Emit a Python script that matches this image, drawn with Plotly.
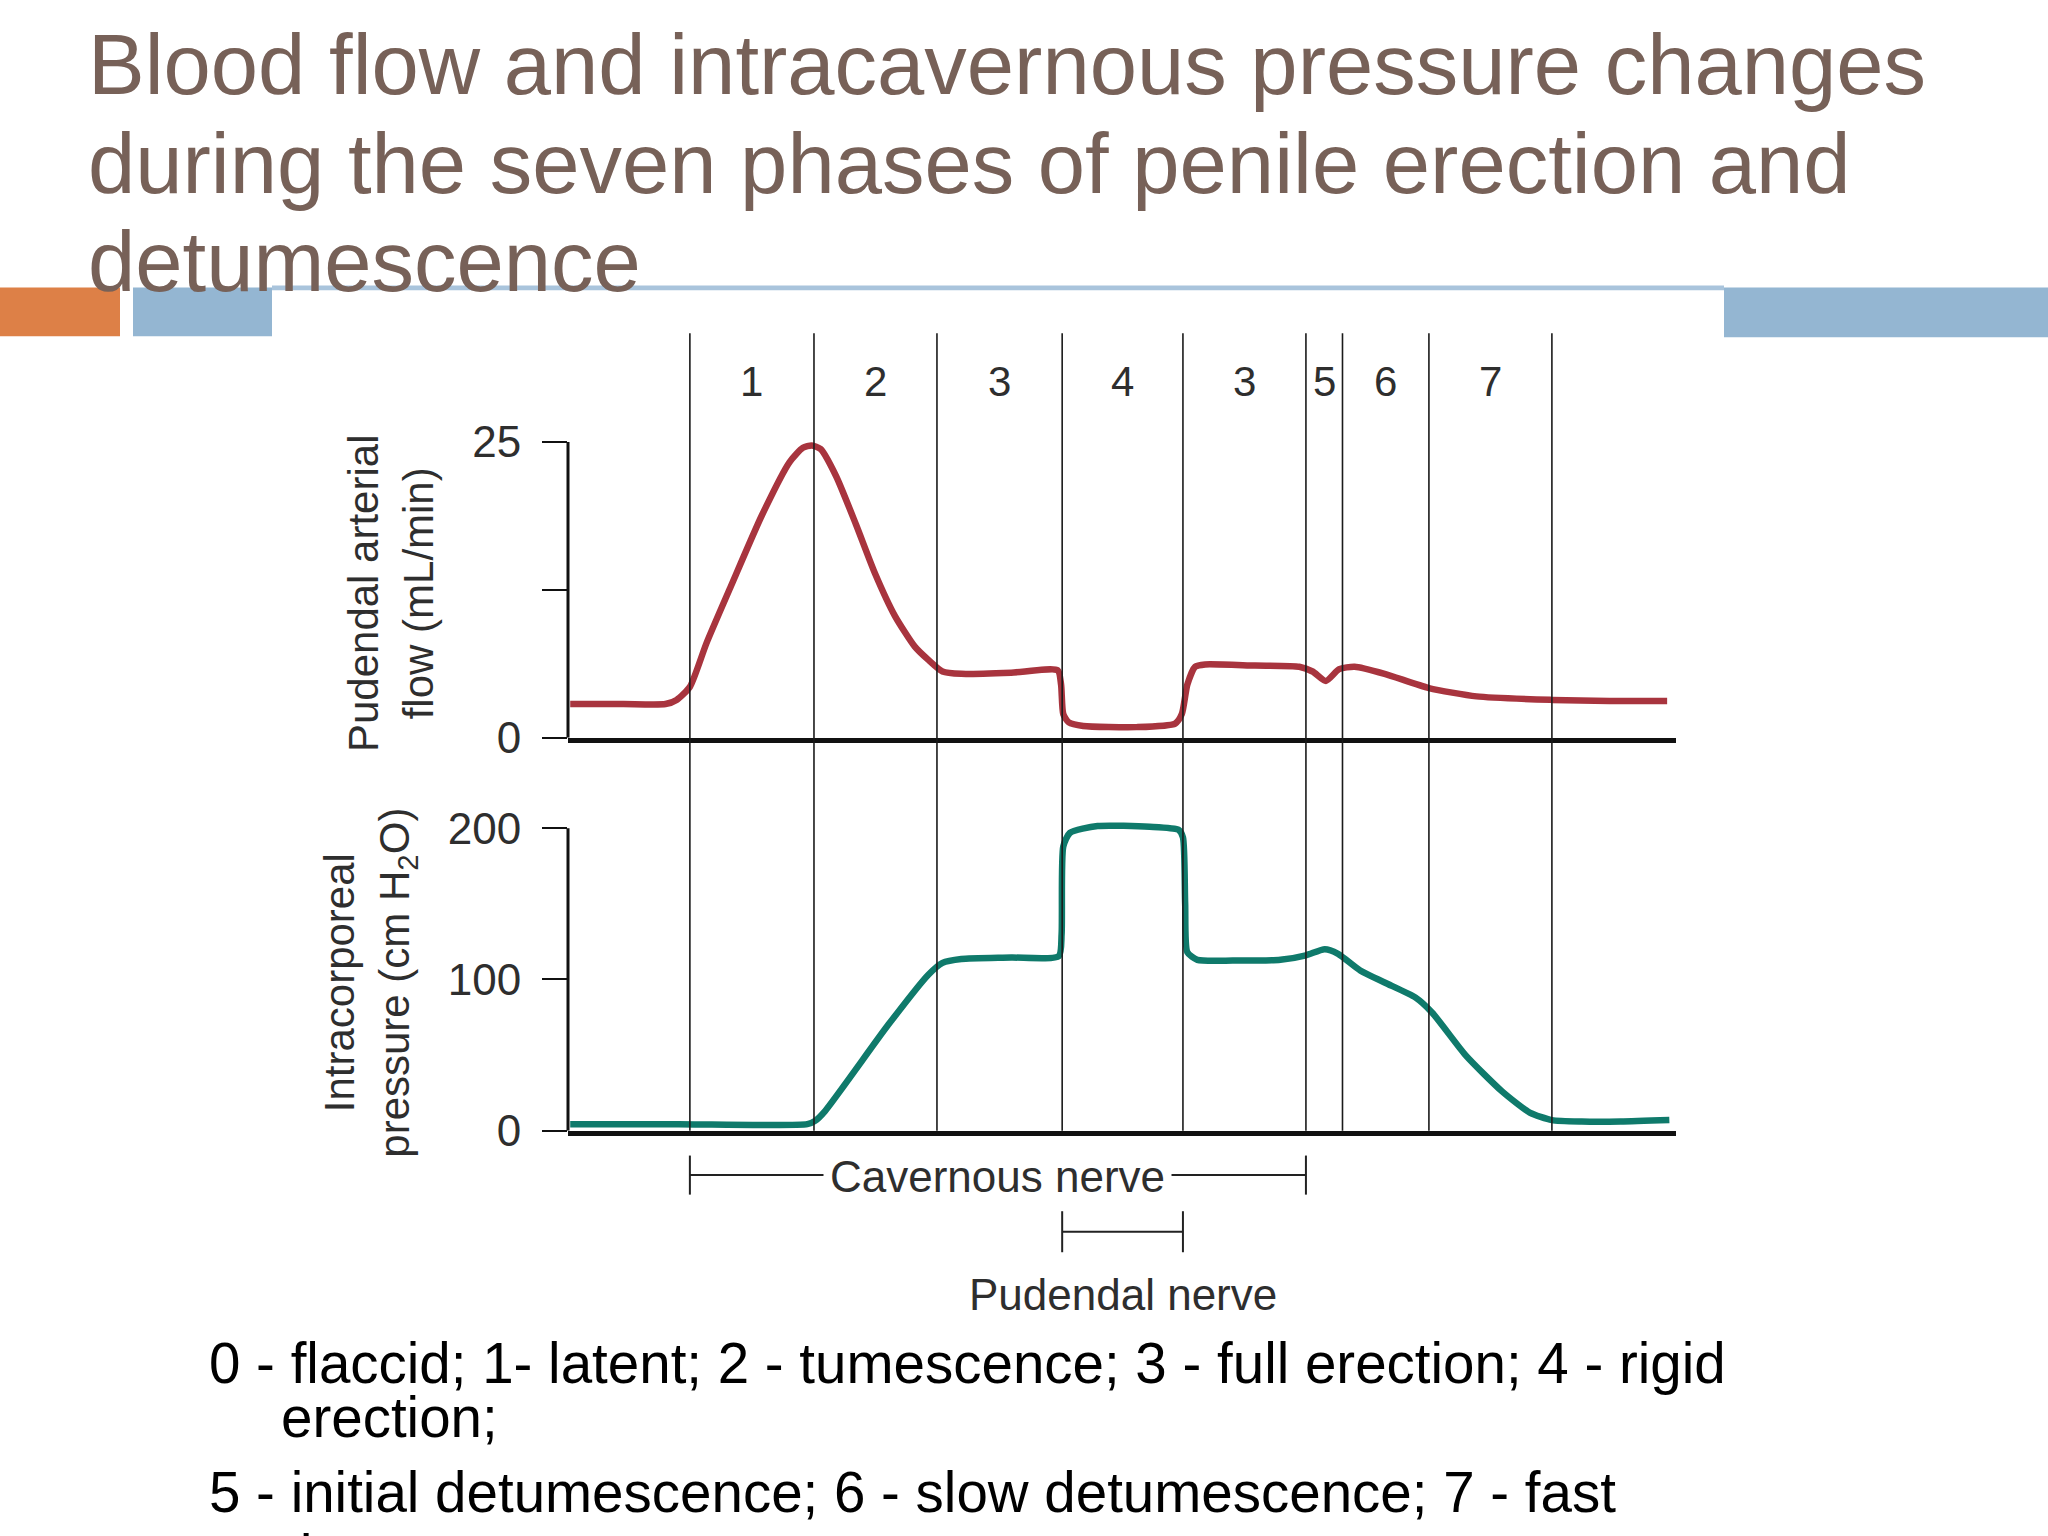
import plotly.graph_objects as go

W, H = 2048, 1536

# ---------------- data ----------------
title_lines = ["Blood flow and intracavernous pressure changes",
               "during the seven phases of penile erection and",
               "detumescence"]

phase_bounds = [11.0, 22.2, 33.3, 44.6, 55.5, 66.6, 69.9, 77.7, 88.8]
phase_labels = ["1", "2", "3", "4", "3", "5", "6", "7"]

# pudendal arterial flow (mL/min)
flow_t = [0.2, 5, 8.8, 9.8, 11.0, 12.5, 14.7, 17.5, 20.0, 21.2, 22.0, 22.8, 24.2, 26.0,
          27.7, 29.5, 31.3, 32.5, 33.8, 35.5, 40, 44.2, 44.5, 44.7, 45.2, 46.5, 51.3, 54.8,
          55.4, 55.9, 56.6, 57.5, 62, 66.0, 67.2, 68.4, 69.6, 71.0, 73.7, 77.7, 82.0, 88.8,
          94, 99.2]
flow_v = [2.85, 2.85, 2.85, 3.2, 4.3, 8.0, 12.8, 18.8, 23.3, 24.5, 24.7, 24.4, 22.1, 18.0,
          13.9, 10.3, 7.7, 6.6, 5.6, 5.4, 5.5, 5.7, 4.5, 2.0, 1.3, 1.0, 0.9, 1.2,
          2.0, 4.5, 6.0, 6.2, 6.1, 6.0, 5.6, 4.8, 5.8, 6.0, 5.4, 4.2, 3.5, 3.2,
          3.1, 3.1]

# intracorporeal pressure (cm H2O)
press_t = [0.2, 10, 21.6, 22.3, 23.2, 28.9, 32.5, 33.8, 35.5, 40, 44.3, 44.55, 44.7, 45.3,
           47.8, 52.5, 55.1, 55.5, 55.7, 55.9, 56.8, 60, 64.3, 66.6, 68.3, 69.5, 71.5,
           73.7, 76.5, 78.0, 81, 84.3, 86.8, 88.8, 91.5, 95, 99.4]
press_v = [4.3, 4.3, 4.3, 6.5, 13, 70, 103, 111, 113.5, 114.5, 115.5, 130, 188, 197,
           201.5, 201, 199, 194, 150, 118, 113, 112.5, 113, 116, 120, 117, 106,
           98, 88, 78, 50, 26, 12, 7, 6, 6, 7]

flow_ticks = [0, 12.5, 25]
flow_ticktext = ["0", " ", "25"]
press_ticks = [0, 100, 200]
press_ticktext = ["0", "100", "200"]

cavernous_span = [11.0, 66.6]
pudendal_span = [44.6, 55.5]

legend_lines = ["0 - flaccid; 1- latent; 2 - tumescence; 3 - full erection; 4 - rigid",
                "erection;",
                "5 - initial detumescence; 6 - slow detumescence; 7 - fast",
                "detumescence;"]

# ---------------- helpers ----------------
def px_x(p):
    return p / W

def px_y(p):
    return (H - p) / H

FONT = "Liberation Sans, Arial, sans-serif"
TXT = "#2e2e2e"
RED = "#a8343e"
GREEN = "#0f7a6b"
BROWN = "#776158"
ORANGE = "#dd8047"
BLUE = "#94b6d2"

xdom = [px_x(568), px_x(1676)]
TOP0, TOPK = 743.2, 12.12      # pixel of y=0, px per unit (top panel)
BOT0, BOTK = 1145.5, 1.548     # pixel of y=0, px per unit (bottom panel)
top_dom = [px_y(TOP0), px_y(TOP0 - 26 * TOPK)]
bot_dom = [px_y(BOT0), px_y(BOT0 - 208 * BOTK)]

fig = go.Figure()
fig.add_trace(go.Scatter(x=flow_t, y=flow_v, mode="lines", xaxis="x", yaxis="y",
                         line=dict(color=RED, width=6.5, shape="spline", smoothing=0.6),
                         showlegend=False, hoverinfo="skip"))
fig.add_trace(go.Scatter(x=press_t, y=press_v, mode="lines", xaxis="x2", yaxis="y2",
                         line=dict(color=GREEN, width=6.5, shape="spline", smoothing=0.6),
                         showlegend=False, hoverinfo="skip"))

common_x = dict(range=[0, 100], showgrid=False, zeroline=False, showticklabels=False,
                ticks="", showline=True, linecolor="#111", linewidth=5, fixedrange=True)
common_y = dict(showgrid=False, zeroline=False, showline=False, ticks="outside",
                ticklen=25, tickwidth=2, tickcolor="#111", ticklabelstandoff=12,
                tickfont=dict(family=FONT, size=44, color=TXT), fixedrange=True)

fig.update_layout(
    width=W, height=H, margin=dict(l=0, r=0, t=0, b=0),
    paper_bgcolor="white", plot_bgcolor="rgba(0,0,0,0)",
    xaxis=dict(domain=xdom, anchor="y", **common_x),
    xaxis2=dict(domain=xdom, anchor="y2", matches="x", **common_x),
    yaxis=dict(domain=top_dom, anchor="x", range=[0, 26], tickvals=flow_ticks,
               ticktext=flow_ticktext, **common_y),
    yaxis2=dict(domain=bot_dom, anchor="x2", range=[0, 208], tickvals=press_ticks,
                ticktext=press_ticktext, **common_y),
)

shapes = []
# slide decoration
shapes.append(dict(type="rect", xref="paper", yref="paper", x0=px_x(0), x1=px_x(120),
                   y0=px_y(332), y1=px_y(282), fillcolor=ORANGE, line=dict(width=0), layer="below"))
shapes.append(dict(type="rect", xref="paper", yref="paper", x0=px_x(133), x1=px_x(272),
                   y0=px_y(332), y1=px_y(282), fillcolor=BLUE, line=dict(width=0), layer="below"))
shapes.append(dict(type="rect", xref="paper", yref="paper", x0=px_x(1724), x1=px_x(2048),
                   y0=px_y(333), y1=px_y(282), fillcolor=BLUE, line=dict(width=0), layer="below"))
shapes.append(dict(type="rect", xref="paper", yref="paper", x0=px_x(272), x1=px_x(1724),
                   y0=px_y(285), y1=px_y(280), fillcolor="#a9c4dc", line=dict(width=0), layer="below"))

# y-axis lines
shapes.append(dict(type="line", xref="x domain", yref="y", x0=0, x1=0, y0=0, y1=flow_ticks[-1],
                   line=dict(color="#111", width=3)))
shapes.append(dict(type="line", xref="x2 domain", yref="y2", x0=0, x1=0, y0=0, y1=press_ticks[-1],
                   line=dict(color="#111", width=3)))

# phase boundaries
for b in phase_bounds:
    shapes.append(dict(type="line", xref="x", yref="paper", x0=b, x1=b,
                       y0=bot_dom[0], y1=px_y(329), line=dict(color="#1a1a1a", width=1.6)))

# nerve brackets
def bracket(span, yc, half):
    out = [dict(type="line", xref="x", yref="paper", x0=span[0], x1=span[1], y0=px_y(yc), y1=px_y(yc),
                line=dict(color="#222", width=2))]
    for s in span:
        out.append(dict(type="line", xref="x", yref="paper", x0=s, x1=s,
                        y0=px_y(yc - half), y1=px_y(yc + half), line=dict(color="#222", width=2)))
    return out

shapes += bracket(cavernous_span, 1191, 20)
shapes += bracket(pudendal_span, 1249, 21)
fig.update_layout(shapes=shapes)

ann = []
title_y = [54, 155, 256]
for line, yc in zip(title_lines, title_y):
    ann.append(dict(text=line, xref="paper", yref="paper", x=px_x(86), y=px_y(yc),
                    xanchor="left", yanchor="middle", showarrow=False,
                    font=dict(family=FONT, size=85, color=BROWN)))

for i, lab in enumerate(phase_labels):
    mid = (phase_bounds[i] + phase_bounds[i + 1]) / 2
    ann.append(dict(text=lab, xref="x", yref="paper", x=mid, y=px_y(378),
                    xanchor="center", yanchor="middle", showarrow=False,
                    font=dict(family=FONT, size=42, color=TXT)))

ann.append(dict(text="Pudendal arterial<br>flow (mL/min)", xref="paper", yref="paper",
                x=px_x(391), y=px_y(595), textangle=-90, showarrow=False,
                xanchor="center", yanchor="middle",
                font=dict(family=FONT, size=42, color=TXT)))
ann.append(dict(text="Intracorporeal<br>pressure (cm H<sub>2</sub>O)", xref="paper", yref="paper",
                x=px_x(370), y=px_y(994), textangle=-90, showarrow=False,
                xanchor="center", yanchor="middle",
                font=dict(family=FONT, size=42, color=TXT)))

ann.append(dict(text="Cavernous nerve", xref="x", yref="paper",
                x=(cavernous_span[0] + cavernous_span[1]) / 2, y=px_y(1192),
                showarrow=False, xanchor="center", yanchor="middle", bgcolor="white", borderpad=6,
                font=dict(family=FONT, size=44, color=TXT)))
ann.append(dict(text="Pudendal nerve", xref="x", yref="paper",
                x=(pudendal_span[0] + pudendal_span[1]) / 2, y=px_y(1313),
                showarrow=False, xanchor="center", yanchor="middle",
                font=dict(family=FONT, size=44, color=TXT)))

leg_pos = [(207, 1384), (279, 1439), (207, 1516), (279, 1581)]
for line, (lx, ly) in zip(legend_lines, leg_pos):
    ann.append(dict(text=line, xref="paper", yref="paper", x=px_x(lx), y=px_y(ly),
                    xanchor="left", yanchor="middle", showarrow=False,
                    font=dict(family=FONT, size=56.5, color="#000")))

fig.update_layout(annotations=ann)

fig.write_html("out.html", config={"displayModeBar": False})
